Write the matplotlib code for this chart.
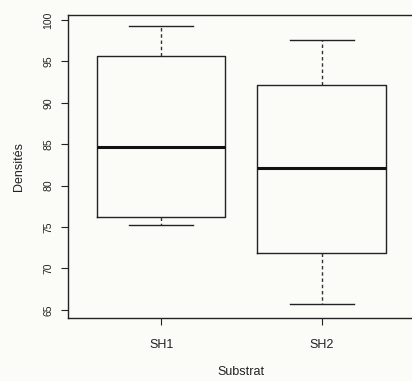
import matplotlib
matplotlib.use("Agg")
import matplotlib.pyplot as plt

# valeurs
groupes = ["SH1", "SH2"]
moustache_basse = [75.2, 65.7]
q1 = [76.2, 71.9]
mediane = [84.6, 82.1]
q3 = [95.6, 92.1]
moustache_haute = [99.2, 97.6]
yticks = [65, 70, 75, 80, 85, 90, 95, 100]

plt.rcParams['font.family'] = ['Liberation Sans', 'DejaVu Sans']

stats = []
for i, g in enumerate(groupes):
    stats.append(dict(label=g, whislo=moustache_basse[i], q1=q1[i], med=mediane[i],
                      q3=q3[i], whishi=moustache_haute[i], fliers=[]))

fig = plt.figure(figsize=(4.12, 3.81), dpi=100, facecolor='#fbfbf8')
ax = fig.add_axes([0.165, 0.165, 0.842, 0.796])
ax.set_facecolor('#fbfbf8')

ax.bxp(stats, positions=[1, 2], widths=0.8, showfliers=False,
       boxprops=dict(color='#222222', linewidth=1.0),
       medianprops=dict(color='#111111', linewidth=2.2),
       whiskerprops=dict(color='#333333', linewidth=1.0, linestyle=(0, (2.5, 2))),
       capprops=dict(color='#222222', linewidth=1.0),
       capwidths=0.4)

ax.set_xlim(0.42, 2.58)
ax.set_ylim(64.0, 100.6)
ax.set_yticks(yticks)
ax.set_yticklabels([str(v) for v in yticks], rotation=90, va='center')
ax.set_xticks([1, 2])
ax.set_xticklabels(groupes)
ax.tick_params(axis='both', direction='out', length=5, width=0.8,
               color='#222222', labelcolor='#222222')
ax.tick_params(axis='y', pad=5.5, labelsize=7.5)
ax.tick_params(axis='x', pad=10, labelsize=9)
for s in ax.spines.values():
    s.set_color('#222222')
    s.set_linewidth(1.0)

ax.set_xlabel("Substrat", fontsize=9, color='#222222', labelpad=11)
ax.set_ylabel("Densités", fontsize=9, color='#222222', labelpad=13)

fig.savefig("out.png", dpi=100, facecolor=fig.get_facecolor())
